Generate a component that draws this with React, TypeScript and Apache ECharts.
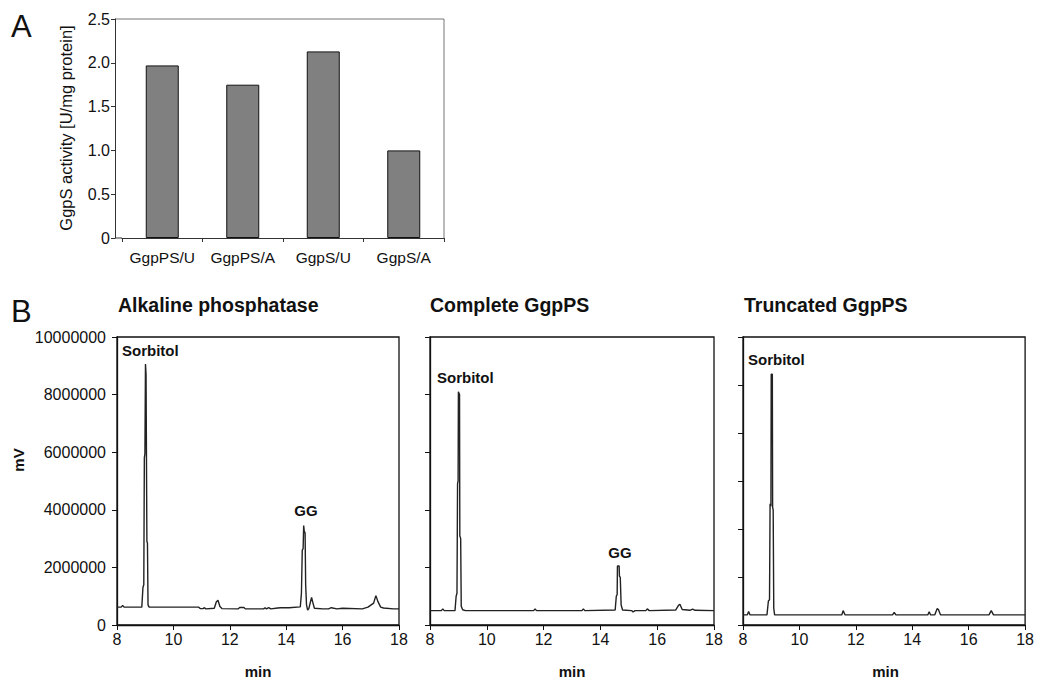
import React, { useEffect, useRef } from "react";
import * as echarts from "echarts";

// ---------- Panel A data ----------
const barCategories = ["GgpPS/U", "GgpPS/A", "GgpS/U", "GgpS/A"];
const barValues = [1.97, 1.75, 2.13, 1.0];

// ---------- Panel B data: [time (min), signal (mV)] ----------
const alkalineTrace: [number, number][] = [
  [8.0, 620000], [8.15, 620000], [8.2, 680000], [8.25, 620000], [8.88, 620000],
  [8.92, 1300000], [8.95, 1400000], [8.97, 5800000], [8.99, 5950000], [9.01, 9060000],
  [9.03, 8700000], [9.05, 8700000], [9.06, 2900000], [9.08, 2850000], [9.1, 700000],
  [9.14, 620000], [10.9, 620000], [10.95, 570000], [11.05, 570000], [11.1, 600000],
  [11.15, 560000], [11.45, 580000], [11.52, 800000], [11.58, 860000], [11.65, 640000],
  [11.72, 570000], [12.3, 560000], [12.35, 610000], [12.5, 610000], [12.55, 560000],
  [13.2, 560000], [13.25, 600000], [13.3, 560000], [13.38, 600000], [13.45, 560000],
  [13.7, 590000], [13.8, 600000], [14.1, 600000], [14.5, 630000], [14.54, 1100000],
  [14.57, 2600000], [14.6, 2650000], [14.62, 3450000], [14.64, 3250000], [14.67, 3200000],
  [14.69, 1400000], [14.72, 700000], [14.76, 520000], [14.8, 560000], [14.86, 800000],
  [14.9, 960000], [14.95, 760000], [15.0, 580000], [15.3, 560000], [15.5, 560000],
  [15.6, 600000], [15.8, 560000], [16.0, 580000], [16.7, 560000], [16.9, 620000],
  [17.1, 760000], [17.18, 1020000], [17.25, 820000], [17.35, 620000], [17.45, 590000],
  [17.8, 560000], [18.0, 560000],
];

const completeTrace: [number, number][] = [
  [8.0, 500000], [8.4, 500000], [8.45, 560000], [8.5, 500000], [8.88, 500000],
  [8.92, 1000000], [8.95, 1100000], [8.97, 4900000], [8.99, 5000000], [9.0, 8100000],
  [9.02, 8050000], [9.04, 8000000], [9.05, 3100000], [9.08, 3000000], [9.1, 650000],
  [9.15, 530000], [9.25, 500000], [11.65, 500000], [11.7, 560000], [11.75, 500000],
  [13.35, 500000], [13.4, 560000], [13.45, 500000], [14.52, 520000], [14.56, 1000000],
  [14.59, 1050000], [14.6, 2050000], [14.66, 2050000], [14.67, 1700000], [14.7, 1650000],
  [14.73, 700000], [14.78, 520000], [15.1, 500000], [15.15, 450000], [15.22, 500000],
  [15.6, 500000], [15.65, 560000], [15.72, 500000], [16.65, 520000], [16.75, 680000],
  [16.8, 720000], [16.88, 540000], [17.15, 510000], [17.25, 550000], [17.33, 510000],
  [18.0, 500000],
];

const truncatedTrace: [number, number][] = [
  [8.0, 420000], [8.15, 420000], [8.2, 560000], [8.25, 420000], [8.85, 420000],
  [8.9, 1000000], [8.94, 1050000], [8.96, 5050000], [8.99, 4950000], [9.0, 10450000],
  [9.04, 10450000], [9.05, 4900000], [9.07, 4800000], [9.09, 700000], [9.12, 420000],
  [11.5, 420000], [11.55, 600000], [11.62, 420000], [13.3, 420000], [13.36, 520000],
  [13.42, 420000], [14.55, 420000], [14.6, 550000], [14.65, 420000], [14.8, 430000],
  [14.88, 680000], [14.93, 640000], [15.0, 430000], [16.72, 420000], [16.8, 600000],
  [16.88, 420000], [18.0, 420000],
];

const panelTitles = ["Alkaline phosphatase", "Complete GgpPS", "Truncated GgpPS"];

const FONT = "'Liberation Sans', Arial, Helvetica, sans-serif";
const INK = "#111";

export default function App() {
  const ref = useRef<HTMLDivElement>(null);

  useEffect(() => {
    if (!ref.current) return;
    const chart = echarts.init(ref.current, undefined, { renderer: "svg" });

    const aGrid = { left: 122, top: 19, width: 322, height: 219 };
    const aAxisX = 115;
    const bGrids = [
      { left: 117, top: 337, width: 282, height: 288 },
      { left: 430, top: 337, width: 284, height: 288 },
      { left: 743, top: 337, width: 285, height: 288 },
    ];
    const yMax = [10000000, 10000000, 12000000];
    const traces = [alkalineTrace, completeTrace, truncatedTrace];

    const grids: any[] = [
      { ...aGrid, show: false },
      ...bGrids.map((g) => ({ ...g, show: true, borderColor: INK, borderWidth: 1.3 })),
    ];

    const xAxes: any[] = [
      {
        gridIndex: 0,
        type: "category",
        data: barCategories,
        axisLine: { lineStyle: { color: "#333", width: 1 } },
        axisTick: { show: true, inside: false, length: 4, interval: 0, alignWithLabel: false, lineStyle: { color: "#333" } },
        axisLabel: { color: INK, fontFamily: FONT, fontSize: 15.5, margin: 11, interval: 0, hideOverlap: false },
      },
      ...bGrids.map((_, i) => ({
        gridIndex: i + 1,
        type: "value",
        min: 8,
        max: 18,
        interval: 2,
        splitLine: { show: false },
        axisLine: { onZero: false, lineStyle: { color: INK, width: 1.3 } },
        axisTick: { show: true, length: 5, lineStyle: { color: INK } },
        axisLabel: { color: INK, fontFamily: FONT, fontSize: 16, margin: 6 },
      })),
    ];

    const yAxes: any[] = [
      {
        gridIndex: 0,
        type: "value",
        min: 0,
        max: 2.5,
        interval: 0.5,
        offset: aGrid.left - aAxisX,
        splitLine: { show: false },
        axisLine: { show: true, lineStyle: { color: "#333" } },
        axisTick: { show: true, length: 4, lineStyle: { color: "#333" } },
        axisLabel: {
          color: INK,
          fontFamily: FONT,
          fontSize: 16,
          margin: 5,
          formatter: (v: number) => (v === 0 ? "0" : v.toFixed(1)),
        },
      },
      ...bGrids.map((_, i) => ({
        gridIndex: i + 1,
        type: "value",
        min: 0,
        max: yMax[i],
        interval: 2000000,
        splitLine: { show: false },
        axisLine: { show: true, onZero: false, lineStyle: { color: INK, width: 1.3 } },
        axisTick: { show: true, length: 5, lineStyle: { color: INK } },
        axisLabel: {
          show: i === 0,
          color: INK,
          fontFamily: FONT,
          fontSize: 16,
          margin: 11,
          formatter: (v: number) => String(v),
        },
      })),
    ];

    const series: any[] = [
      {
        type: "bar",
        xAxisIndex: 0,
        yAxisIndex: 0,
        data: barValues,
        barWidth: 33,
        itemStyle: { color: "#808080", borderColor: "#111", borderWidth: 1 },
        silent: true,
      },
      ...traces.map((t, i) => ({
        type: "line",
        xAxisIndex: i + 1,
        yAxisIndex: i + 1,
        data: t,
        showSymbol: false,
        symbol: "none",
        lineStyle: { color: "#222", width: 1.4 },
        silent: true,
      })),
    ];

    const txt = (text: string, x: number, y: number, size: number, bold: boolean, align = "left") => ({
      type: "text",
      x,
      y,
      style: {
        text,
        fill: INK,
        font: `${bold ? "bold " : ""}${size}px ${FONT}`,
        textAlign: align,
        textVerticalAlign: "middle",
      },
    });

    const aRight = aGrid.left + aGrid.width;
    const aBottom = aGrid.top + aGrid.height;

    const graphics: any[] = [
      {
        type: "polyline",
        shape: { points: [[aAxisX, aGrid.top], [aRight, aGrid.top], [aRight, aBottom]] },
        style: { stroke: "#777", lineWidth: 1, fill: "none" },
      },
      {
        type: "line",
        shape: { x1: aAxisX, y1: aBottom, x2: aGrid.left, y2: aBottom },
        style: { stroke: "#333", lineWidth: 1 },
      },
      txt("A", 11, 26, 31, false),
      txt("B", 11, 311, 31, false),
      {
        type: "text",
        x: 66,
        y: 128,
        rotation: Math.PI / 2,
        style: {
          text: "GgpS activity [U/mg protein]",
          fill: INK,
          font: `16.5px ${FONT}`,
          textAlign: "center",
          textVerticalAlign: "middle",
        },
      },
      {
        type: "text",
        x: 18,
        y: 460,
        rotation: Math.PI / 2,
        style: { text: "mV", fill: INK, font: `bold 15px ${FONT}`, textAlign: "center", textVerticalAlign: "middle" },
      },
      txt(panelTitles[0], 118, 305, 19.5, true),
      txt(panelTitles[1], 430, 305, 19.5, true),
      txt(panelTitles[2], 744, 305, 19.5, true),
      txt("Sorbitol", 122, 350, 15, true),
      txt("GG", 306, 510, 15, true, "center"),
      txt("Sorbitol", 437, 377, 15, true),
      txt("GG", 620, 552, 15, true, "center"),
      txt("Sorbitol", 748, 359, 15, true),
      ...bGrids.map((g) => txt("min", g.left + g.width / 2, 671, 15, true, "center")),
    ];

    chart.setOption({
      animation: false,
      backgroundColor: "#fff",
      textStyle: { fontFamily: FONT },
      grid: grids,
      xAxis: xAxes,
      yAxis: yAxes,
      series,
      graphic: graphics,
    });

    return () => chart.dispose();
  }, []);

  return (
    <div
      ref={ref}
      style={{ position: "absolute", left: 0, top: 0, width: 1037, height: 681, background: "#fff" }}
    />
  );
}
